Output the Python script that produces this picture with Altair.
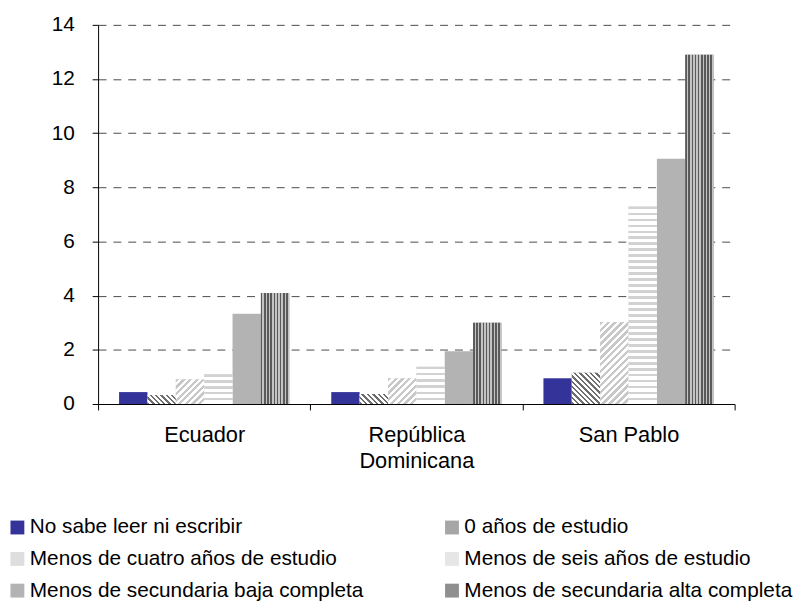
import altair as alt
import pandas as pd

# ---------------- data ----------------
countries = ["Ecuador", "República Dominicana", "San Pablo"]
series = [
    "No sabe leer ni escribir",
    "0 años de estudio",
    "Menos de cuatro años de estudio",
    "Menos de seis años de estudio",
    "Menos de secundaria baja completa",
    "Menos de secundaria alta completa",
]
ecuador = [0.44, 0.33, 0.91, 1.10, 3.33, 4.10]
rep_dominicana = [0.44, 0.37, 0.95, 1.38, 1.95, 3.00]
san_pablo = [0.95, 1.15, 3.03, 7.29, 9.06, 12.90]
y_ticks = [0, 2, 4, 6, 8, 10, 12, 14]

values_by_country = {
    "Ecuador": ecuador,
    "República Dominicana": rep_dominicana,
    "San Pablo": san_pablo,
}
rows = []
for c in countries:
    for s, v in zip(series, values_by_country[c]):
        rows.append({"country": c, "series": s, "value": v})
df = pd.DataFrame(rows)

# ---------------- style ----------------
FONT = "Liberation Sans"
W, H = 643, 383
Y_MAX = 14
OFFSET_PAD = 0.74
legend_colors = ["#333399", "#a6a6a6", "#dedede", "#e6e6e6", "#b3b3b3", "#8f8f8f"]
# legend fills columns first: reorder so that rows read s1 s2 / s3 s4 / s5 s6
legend_order = [0, 2, 4, 1, 3, 5]
legend_domain = [series[i] for i in legend_order]
legend_range = [legend_colors[i] for i in legend_order]
BAR_W = (W / len(countries)) / (len(series) + 2 * OFFSET_PAD)


def stripe_stops(c_line, c_bg, n, frac):
    stops = []
    for i in range(n):
        a = i / n
        b = (i + frac) / n
        e = (i + 1) / n
        stops += [
            {"offset": a, "color": c_line},
            {"offset": b, "color": c_line},
            {"offset": b, "color": c_bg},
            {"offset": e, "color": c_bg},
        ]
    return stops


def grad_vertical(c_line, c_bg, period, frac):
    n = max(1, round(BAR_W / period))
    return {"gradient": "linear", "x1": 0, "y1": 0, "x2": 1, "y2": 0,
            "stops": stripe_stops(c_line, c_bg, n, frac)}


def grad_horizontal(h, c_line, c_bg, period, frac):
    n = max(1, round(h / period))
    return {"gradient": "linear", "x1": 0, "y1": 0, "x2": 0, "y2": 1,
            "stops": stripe_stops(c_line, c_bg, n, frac)}


def grad_diag(h, c_line, c_bg, period, frac, forward=True):
    w = BAR_W
    r = h / w
    s = (w + h) * w / (w * w + h * h)
    n = max(1, round((w + h) / (period * 2 ** 0.5)))
    if forward:  # "/" stripes
        g = {"x1": 0, "y1": 0, "x2": s, "y2": s * r}
    else:  # "\" stripes
        g = {"x1": 0, "y1": 1, "x2": s, "y2": 1 - s * r}
    g.update({"gradient": "linear", "stops": stripe_stops(c_line, c_bg, n, frac)})
    return g


x_enc = alt.X(
    "country:N",
    sort=countries,
    scale=alt.Scale(domain=countries, paddingInner=0, paddingOuter=0),
    axis=alt.Axis(
        title=None, labelAngle=0, tickBand="extent", tickSize=6, tickColor="black",
        domainColor="black", labelFont=FONT, labelFontSize=22, labelColor="black",
        labelPadding=15, labelLineHeight=26, grid=False,
        labelExpr="datum.label == 'República Dominicana' ? ['República', 'Dominicana'] : datum.label",
    ),
)
xo_enc = alt.XOffset(
    "series:N", sort=series,
    scale=alt.Scale(domain=series, paddingInner=0, paddingOuter=OFFSET_PAD),
)
y_enc = alt.Y(
    "value:Q",
    scale=alt.Scale(domain=[0, Y_MAX], nice=False),
    axis=alt.Axis(
        title=None, values=y_ticks, grid=True, gridDash=[8, 7], gridColor="#4a4a4a",
        gridWidth=1, tickSize=6, tickColor="black", domainColor="black",
        labelFont=FONT, labelFontSize=21, labelColor="black", labelPadding=18,
    ),
)

base = alt.Chart(df).mark_bar().encode(
    x=x_enc,
    xOffset=xo_enc,
    y=y_enc,
    color=alt.Color(
        "series:N",
        scale=alt.Scale(domain=legend_domain, range=legend_range),
        legend=alt.Legend(
            title=None, orient="none", legendX=-92, legendY=497, columns=2,
            columnPadding=78, rowPadding=10, symbolType="square", symbolSize=196,
            symbolStrokeWidth=0, labelFont=FONT, labelFontSize=21, labelColor="black",
            labelOffset=2, labelLimit=500, padding=0,
        ),
    ),
)

layers = [base]
# vertical stripes for the last series
layers.append(
    alt.Chart(df).transform_filter(alt.datum.series == series[5])
    .mark_bar(fill=grad_vertical("#5a5a5a", "#c4c4c4", 3.2, 0.5))
    .encode(x=x_enc, xOffset=xo_enc, y=y_enc)
)
for c in countries:
    vals = values_by_country[c]
    for idx in (1, 2, 3):
        h = vals[idx] * H / Y_MAX
        if idx == 1:
            g = grad_diag(h, "#6e6e6e", "#ffffff", 4.0, 0.45, forward=False)
        elif idx == 2:
            g = grad_diag(h, "#c8c8c8", "#ffffff", 5.0, 0.5, forward=True)
        else:
            g = grad_horizontal(h, "#d2d2d2", "#ffffff", 6.0, 0.4)
        layers.append(
            alt.Chart(df)
            .transform_filter((alt.datum.country == c) & (alt.datum.series == series[idx]))
            .mark_bar(fill=g)
            .encode(x=x_enc, xOffset=xo_enc, y=y_enc)
        )

chart = (
    alt.layer(*layers)
    .properties(
        width=W, height=H,
        autosize=alt.AutoSizeParams(type="none"),
        padding={"left": 91, "top": 14, "right": 62, "bottom": 200},
    )
    .configure_view(stroke=None)
)

chart.save("out.html", embed_options={"renderer": "svg", "actions": False})
